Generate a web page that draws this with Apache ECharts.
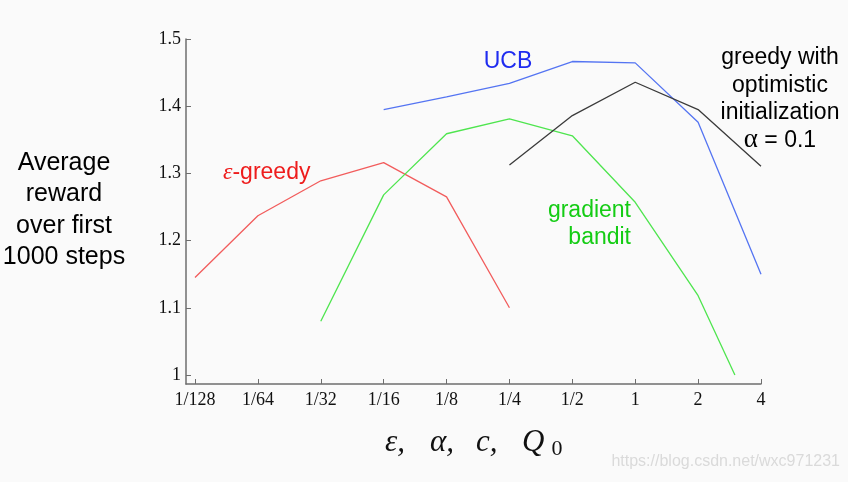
<!DOCTYPE html>
<html>
<head>
<meta charset="utf-8">
<script src="https://cdn.jsdelivr.net/npm/echarts@6/dist/echarts.min.js"></script>
<style>
html,body{margin:0;padding:0;background:#fafafa;}
#chart{width:848px;height:482px;}
</style>
</head>
<body>
<div id="chart"></div>
<script>
// Parameter levels (x axis, log2 scale)
const xLevels = [1/128, 1/64, 1/32, 1/16, 1/8, 1/4, 1/2, 1, 2, 4];
const xTickLabels = ['1/128', '1/64', '1/32', '1/16', '1/8', '1/4', '1/2', '1', '2', '4'];
const yTicks = [1, 1.1, 1.2, 1.3, 1.4, 1.5];

// Average reward values aligned with xLevels (null = no point)
const epsGreedy = [1.145, 1.237, 1.289, 1.316, 1.265, 1.100, null, null, null, null];
const gradientBandit = [null, null, 1.080, 1.268, 1.359, 1.381, 1.356, 1.257, 1.118, null];
const gradientEnd = [3, 1.0]; // line leaves the plot at the bottom edge
const ucb = [null, null, null, 1.395, 1.414, 1.434, 1.4665, 1.4645, 1.376, 1.150];
const greedyOptimistic = [null, null, null, null, null, 1.3125, 1.386, 1.4356, 1.395, 1.3105];

function toPairs(vals) {
  const out = [];
  vals.forEach((v, i) => { if (v !== null) out.push([Math.log2(xLevels[i]), v]); });
  return out;
}
const gradPairs = toPairs(gradientBandit);
gradPairs.push([Math.log2(gradientEnd[0]), gradientEnd[1]]);

const xTickVals = xLevels.map(v => Math.log2(v));
const labelMap = {};
xTickVals.forEach((v, i) => { labelMap[v] = xTickLabels[i]; });

const chart = echarts.init(document.getElementById('chart'));
const sans = 'Liberation Sans, Arial, sans-serif';
const serif = 'Liberation Serif, Times New Roman, serif';
const axisColor = '#6e6e6e';

function lineSeries(data, color) {
  return {
    type: 'line', data: data, symbol: 'none', animation: false,
    lineStyle: { color: color, width: 1.3 }, clip: false
  };
}

const mathFont = 'italic 31px ' + serif;

chart.setOption({
  backgroundColor: '#fafafa',
  animation: false,
  grid: { left: 186, right: 87, top: 39, bottom: 98 },
  xAxis: {
    type: 'value', min: -7.143, max: 2,
    axisLine: { onZero: false, lineStyle: { color: axisColor, width: 1.5 } },
    axisTick: { inside: true, length: 5, customValues: xTickVals, lineStyle: { color: axisColor, width: 1 } },
    axisLabel: {
      customValues: xTickVals, margin: 7,
      formatter: v => labelMap[v] !== undefined ? labelMap[v] : '',
      fontFamily: serif, fontSize: 18, color: '#111'
    },
    splitLine: { show: false }
  },
  yAxis: {
    type: 'value', min: 0.98661, max: 1.5,
    axisLine: { show: true, onZero: false, lineStyle: { color: axisColor, width: 1.5 } },
    axisTick: { show: true, inside: true, length: 5, customValues: yTicks, lineStyle: { color: axisColor, width: 1 } },
    axisLabel: {
      customValues: yTicks, margin: 5,
      formatter: v => String(Math.round(v * 10) / 10),
      fontFamily: serif, fontSize: 18, color: '#111'
    },
    splitLine: { show: false }
  },
  series: [
    lineSeries(toPairs(epsGreedy), '#f25c5c'),
    lineSeries(gradPairs, '#4ee54e'),
    lineSeries(toPairs(ucb), '#5474f2'),
    lineSeries(toPairs(greedyOptimistic), '#3a3a3a')
  ],
  graphic: [
    { type: 'text', x: 64, y: 210, style: {
        text: 'Average\nreward\nover first\n1000 steps', font: '25px ' + sans,
        fill: '#000', align: 'center', verticalAlign: 'middle', lineHeight: 31.3 } },
    { type: 'text', x: 223, y: 173, style: {
        text: '{e|ε}-greedy', font: '23px ' + sans, fill: '#ee1c1c', verticalAlign: 'middle',
        rich: { e: { font: 'italic 24px ' + serif, fill: '#ee1c1c' } } } },
    { type: 'text', x: 508, y: 62, style: {
        text: 'UCB', font: '23px ' + sans, fill: '#1f2cf0', align: 'center', verticalAlign: 'middle' } },
    { type: 'text', x: 631, y: 224, style: {
        text: 'gradient\nbandit', font: '23px ' + sans, fill: '#14cc14', align: 'right', verticalAlign: 'middle', lineHeight: 27.5 } },
    { type: 'text', x: 780, y: 99, style: {
        text: 'greedy with\noptimistic\ninitialization\n{a|α} = 0.1', font: '23px ' + sans, fill: '#000',
        align: 'center', verticalAlign: 'middle', lineHeight: 27.5,
        rich: { a: { font: '27px ' + serif, fill: '#000' } } } },
    { type: 'text', x: 385, y: 443, style: { text: 'ε,', font: mathFont, fill: '#111', verticalAlign: 'middle' } },
    { type: 'text', x: 430, y: 443, style: { text: 'α,', font: mathFont, fill: '#111', verticalAlign: 'middle' } },
    { type: 'text', x: 476, y: 443, style: { text: 'c,', font: mathFont, fill: '#111', verticalAlign: 'middle' } },
    { type: 'text', x: 522, y: 443, style: { text: 'Q', font: mathFont, fill: '#111', verticalAlign: 'middle' } },
    { type: 'text', x: 557, y: 449, style: {
        text: '0', font: '22px ' + serif, fill: '#111', align: 'center', verticalAlign: 'middle' } },
    { type: 'text', x: 840, y: 462, style: {
        text: 'https://blog.csdn.net/wxc971231', font: '16px ' + sans, fill: '#dadada', align: 'right', verticalAlign: 'middle' } }
  ]
});
</script>
</body>
</html>
